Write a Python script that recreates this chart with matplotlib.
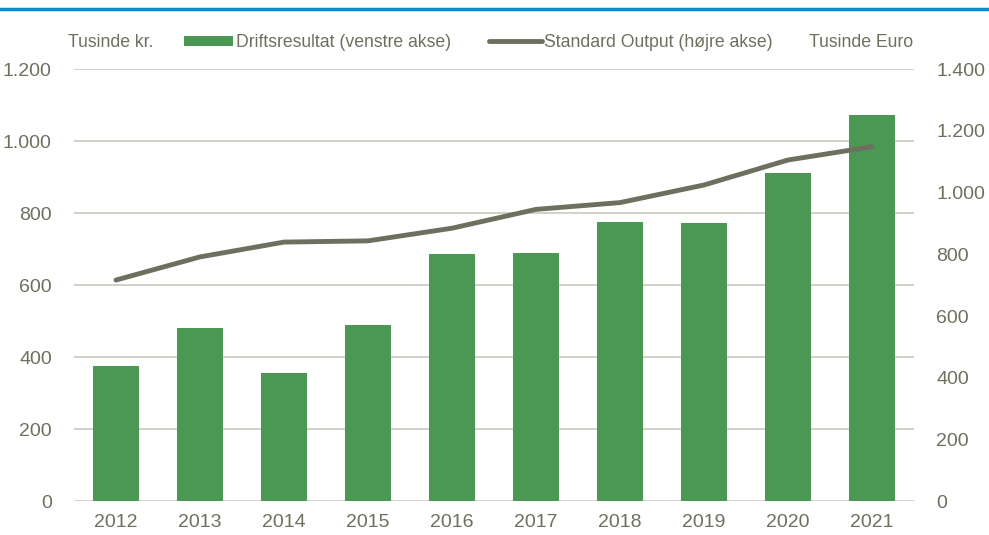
import matplotlib.pyplot as plt
from matplotlib.ticker import FuncFormatter

years = ["2012", "2013", "2014", "2015", "2016", "2017", "2018", "2019", "2020", "2021"]
driftsresultat = [376, 480, 355, 490, 686, 691, 776, 773, 912, 1074]
standard_output = [717, 792, 840, 844, 885, 946, 968, 1025, 1106, 1149]

GREEN = "#4a9853"
LINE = "#6f6f60"
TEXT = "#6f6f60"
GRID = "#c9c9bd"

plt.rcParams["font.family"] = ["Liberation Sans Narrow", "Liberation Sans", "DejaVu Sans"]


def dots(v, pos):
    return f"{int(v):,}".replace(",", ".")


fig = plt.figure(figsize=(9.89, 5.35), dpi=100)
ax = fig.add_axes([0.0748, 0.063, 0.8494, 0.8075])
ax2 = ax.twinx()

x = range(len(years))
bars = ax.bar(x, driftsresultat, width=0.55, color=GREEN, zorder=3,
              label="Driftsresultat (venstre akse)")
line, = ax2.plot(x, standard_output, color=LINE, linewidth=3.5,
                 solid_capstyle="round", label="Standard Output (højre akse)")

ax.set_xlim(-0.5, len(years) - 0.5)
ax.set_ylim(0, 1200)
ax2.set_ylim(0, 1400)
ax.set_yticks(range(0, 1201, 200))
ax2.set_yticks(range(0, 1401, 200))
ax.yaxis.set_major_formatter(FuncFormatter(dots))
ax2.yaxis.set_major_formatter(FuncFormatter(dots))
ax.set_xticks(list(x))
ax.set_xticklabels(years)

ax.grid(axis="y", color=GRID, linewidth=1.2, zorder=0)
for a in (ax, ax2):
    for s in a.spines.values():
        s.set_visible(False)
    a.tick_params(length=0, labelsize=14, colors=TEXT)
ax.tick_params(axis="y", pad=16)
ax2.tick_params(axis="y", pad=16)
ax.tick_params(axis="x", pad=9)

hy = 0.92
fig.text(68 / 989, hy, "Tusinde kr.", fontsize=12.7, color=TEXT, va="center", ha="left")
fig.text(913 / 989, hy, "Tusinde Euro", fontsize=12.7, color=TEXT, va="center", ha="right")
leg1 = fig.legend(handles=[bars], loc="center left", bbox_to_anchor=(184 / 989, hy),
                  frameon=False, fontsize=12.7, labelcolor=TEXT, handlelength=2.8,
                  handleheight=0.55, handletextpad=0.15, borderpad=0, borderaxespad=0)
fig.legend(handles=[line], loc="center left", bbox_to_anchor=(489 / 989, hy),
           frameon=False, fontsize=12.7, labelcolor=TEXT, handlelength=3.0,
           handletextpad=0.1, borderpad=0, borderaxespad=0)

fig.add_artist(plt.Line2D([0, 1], [0.983, 0.983], color="#0a8ad2", linewidth=2.5))

fig.savefig("out.png", dpi=100)
